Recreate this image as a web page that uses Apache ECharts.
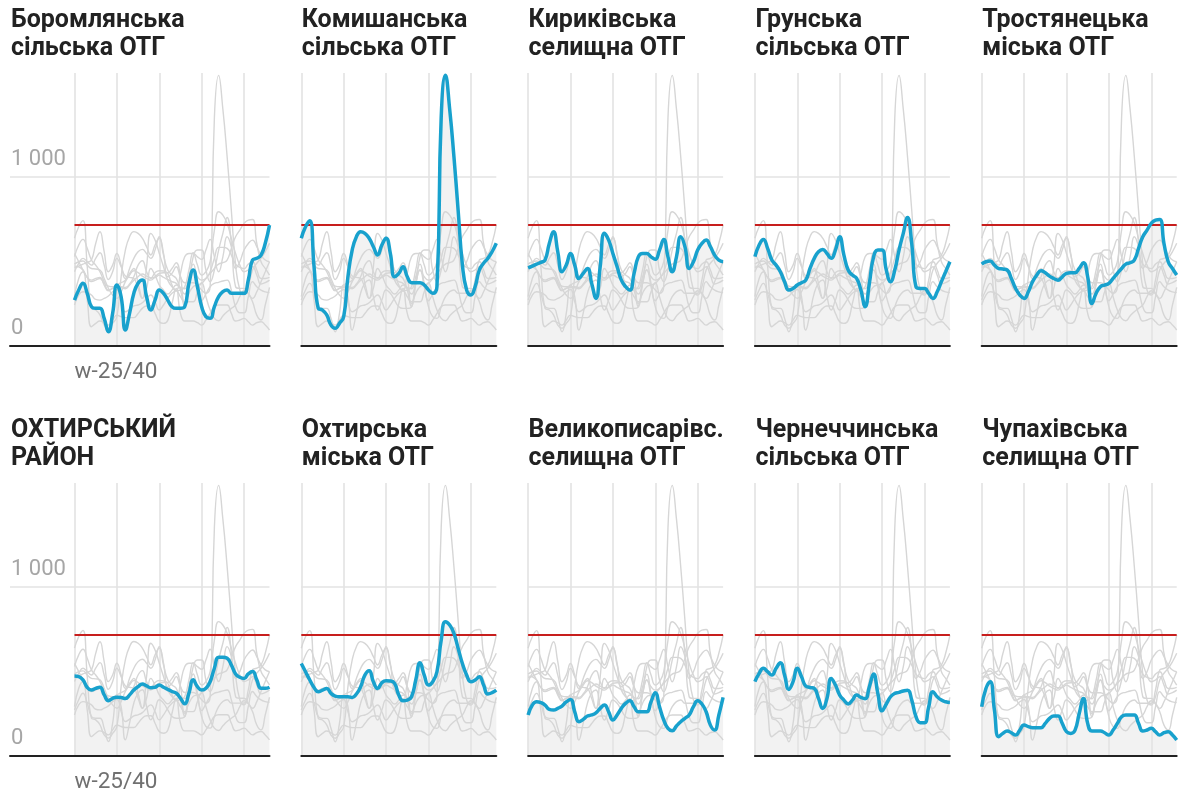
<!DOCTYPE html>
<html><head><meta charset="utf-8">
<script src="https://cdn.jsdelivr.net/npm/echarts@6/dist/echarts.min.js"></script>
<style>html,body{margin:0;padding:0;background:#fff}#c{width:1179px;height:794px}</style>
</head><body><div id="c"></div>
<script>
const titles = [
  'Боромлянська\nсільська ОТГ', 'Комишанська\nсільська ОТГ', 'Кириківська\nселищна ОТГ',
  'Грунська\nсільська ОТГ', 'Тростянецька\nміська ОТГ', 'ОХТИРСЬКИЙ\nРАЙОН',
  'Охтирська\nміська ОТГ', 'Великописарівс.\nселищна ОТГ', 'Чернеччинська\nсільська ОТГ',
  'Чупахівська\nселищна ОТГ'
];
const boromlianska = [270,330,369,310,231,221,221,162,83,192,359,290,93,193,311,370,389,290,211,270,330,310,270,231,221,221,231,370,448,349,231,172,162,231,290,320,330,310,310,310,310,389,507,517,536,606,714];
const komyshanska = [636,704,740,470,221,211,182,122,103,132,172,408,566,645,675,665,636,586,537,596,636,547,408,428,467,408,373,373,373,359,330,310,350,1350,1600,1400,1120,800,480,330,300,349,448,488,517,556,606];
const kyrykivska = [461,471,483,493,507,605,674,556,438,477,546,477,398,428,457,369,280,467,665,625,546,467,388,349,329,428,526,546,546,526,511,566,629,526,438,526,645,586,457,497,566,605,625,586,536,507,497];
const hrunska = [527,596,629,576,507,477,438,379,329,339,359,373,388,457,517,556,570,546,517,566,645,536,448,418,398,329,231,369,526,566,566,448,379,448,566,665,759,605,349,339,339,310,280,319,379,438,497];
const trostianetska = [483,497,501,477,457,454,448,398,339,300,280,319,379,418,444,432,412,398,388,408,428,432,432,457,491,408,250,310,349,359,369,398,428,457,483,491,507,576,645,684,724,743,747,605,497,457,418];
const okhtyrskyiRaion = [471,467,448,404,388,398,404,359,325,339,345,343,337,359,388,408,424,412,402,404,418,404,392,379,369,339,306,369,448,408,388,398,438,517,582,582,576,536,483,463,456,483,497,448,398,398,404];
const okhtyrska = [546,497,448,404,379,388,398,369,353,349,349,349,345,365,408,477,503,438,398,432,444,442,428,359,325,329,349,448,550,477,418,438,497,684,793,773,724,635,546,477,438,448,467,418,365,373,388];
const velykopysarivska = [241,300,319,314,300,274,270,280,294,319,333,260,201,215,235,241,254,280,300,260,211,241,280,310,325,290,260,260,260,319,373,290,211,162,148,176,201,221,241,290,325,306,260,181,152,241,345];
const chernechchynska = [438,487,517,497,477,517,550,477,392,438,517,467,412,404,398,339,280,339,457,418,359,329,306,329,359,345,337,408,483,369,266,306,349,369,375,383,388,329,231,195,195,290,379,349,329,319,315];
const chupakhivska = [290,398,438,270,112,132,146,136,122,152,181,172,166,166,166,191,221,235,235,191,142,132,150,250,339,191,146,146,146,136,122,152,191,231,241,241,241,191,146,152,162,142,122,136,142,122,93];

const seriesValues = [boromlianska, komyshanska, kyrykivska, hrunska, trostianetska,
  okhtyrskyiRaion, okhtyrska, velykopysarivska, chernechchynska, chupakhivska];
const xTickValues = [0];
const xTickLabels = ['w-25/40'];
const yTickValues = [0, 1000];
const yTickLabels = ['0', '1 000'];
const xGridValues = [0, 10, 20, 30, 40];
const thresholdValue = 714;

const FONT = 'Roboto, "Noto Sans", sans-serif';
const colLeft = [74.5, 301.3, 528.1, 754.9, 981.7];
const rowTop = [73, 483];
const plotW = 195, plotH = 272.7, yMax = 1614;
const lastIndex = 46;
const pxPerStep = plotW / lastIndex;
const axisLeft0 = 10;
const SMOOTH = 0.5;

const grids = [], xAxes = [], yAxes = [], series = [], titleList = [];

seriesValues.forEach((vals, p) => {
  const r = Math.floor(p / 5), c = p % 5;
  const first = c === 0;
  const left = first ? axisLeft0 : colLeft[c];
  const width = first ? colLeft[0] + plotW - axisLeft0 : plotW;
  const xMin = first ? -(colLeft[0] - axisLeft0) / pxPerStep : 0;
  grids.push({ left: left, top: rowTop[r], width: width, height: plotH, containLabel: false });
  titleList.push({
    text: titles[p], left: first ? 11 : colLeft[c] + 0.5,
    top: r === 0 ? 7 : 417, padding: 0,
    textStyle: { fontFamily: FONT, fontWeight: 'bold', fontSize: 25, lineHeight: 28, color: '#222' }
  });
  xAxes.push({
    gridIndex: p, type: 'value', min: xMin, max: lastIndex, z: 10,
    axisLine: { show: true, onZero: false, lineStyle: { color: '#222', width: 2 } },
    axisTick: { show: false }, splitLine: { show: false },
    axisLabel: first ? {
      show: true, customValues: xTickValues, formatter: (v) => xTickLabels[xTickValues.indexOf(v)],
      align: 'left', margin: 16, color: '#707070', fontSize: 22.5, fontFamily: FONT, lineHeight: 22
    } : { show: false }
  });
  yAxes.push({
    gridIndex: p, type: 'value', min: 0, max: yMax,
    axisLine: { show: false }, axisTick: { show: false }, splitLine: { show: false },
    axisLabel: first ? {
      show: true, inside: true, customValues: yTickValues,
      formatter: (v) => yTickLabels[yTickValues.indexOf(v)],
      align: 'left', verticalAlign: 'bottom', margin: 1, padding: [0, 0, 6, 0],
      color: '#a6a6a6', fontSize: 22, lineHeight: 22, fontFamily: FONT
    } : { show: false }
  });
  const pts = (arr) => arr.map((v, i) => [i, v]);
  // area under highlighted series + grid lines
  series.push({
    type: 'line', xAxisIndex: p, yAxisIndex: p, data: pts(vals), smooth: SMOOTH,
    showSymbol: false, silent: true, z: 1,
    lineStyle: { width: 0, opacity: 0 }, areaStyle: { color: '#f2f2f2', opacity: 1 },
    markLine: {
      z: 1.5, silent: true, symbol: ['none', 'none'], label: { show: false }, animation: false,
      lineStyle: { color: '#e3e3e3', width: 1.6, type: 'solid' },
      emphasis: { disabled: true },
      data: xGridValues.map(x => ({ xAxis: x })).concat([{ yAxis: yTickValues[1] }])
    }
  });
  // all series in grey
  seriesValues.forEach((other) => {
    series.push({
      type: 'line', xAxisIndex: p, yAxisIndex: p, data: pts(other), smooth: SMOOTH,
      showSymbol: false, silent: true, z: 2,
      lineStyle: { color: '#d6d6d6', width: 1.4 }
    });
  });
  // highlighted series
  series.push({
    type: 'line', xAxisIndex: p, yAxisIndex: p, data: pts(vals), smooth: SMOOTH,
    showSymbol: false, silent: true, z: 3,
    lineStyle: { color: '#18a1cd', width: 3.5 },
    markLine: {
      z: 2.5, silent: true, symbol: ['none', 'none'], label: { show: false }, animation: false,
      lineStyle: { color: '#c71e1d', width: 2, type: 'solid' },
      emphasis: { disabled: true },
      data: [[{ coord: [0, thresholdValue] }, { coord: [lastIndex, thresholdValue] }]]
    }
  });
});

const chart = echarts.init(document.getElementById('c'), null, { renderer: 'canvas' });
chart.setOption({
  animation: false, backgroundColor: '#fff',
  title: titleList, grid: grids, xAxis: xAxes, yAxis: yAxes, series: series
});
</script></body></html>
